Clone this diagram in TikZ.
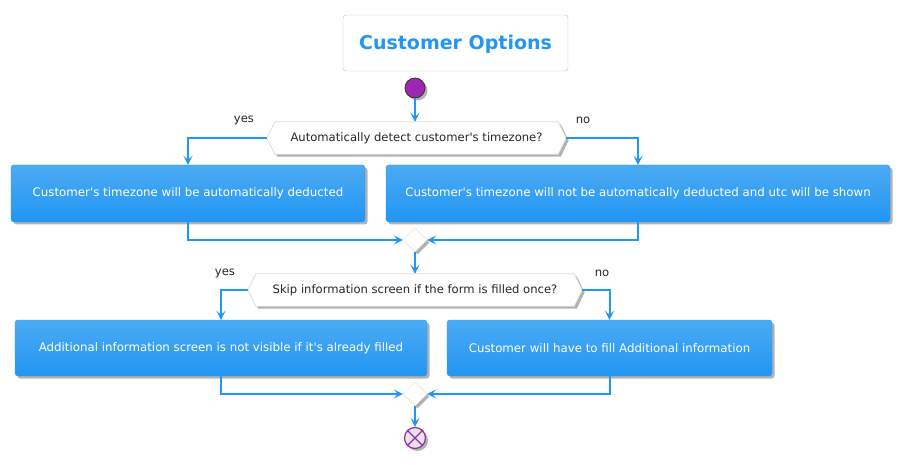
\documentclass[tikz,border=0pt]{standalone}
\usepackage{fontspec}
\setmainfont{DejaVu Sans}[Ligatures=TeXOff]
\usetikzlibrary{arrows.meta,shadows,shapes.geometric}
\definecolor{pblue}{HTML}{2196F3}
\definecolor{lblue}{HTML}{4CAAF3}
\definecolor{ppurple}{HTML}{9C27B0}
\definecolor{hexborder}{HTML}{DDDDDD}
\begin{document}
\begin{tikzpicture}[x=1pt,y=-1pt,
  shad/.style={drop shadow={shadow xshift=2.5pt,shadow yshift=-2.5pt,fill=black,opacity=0.3}},
  actbox/.style={rectangle,rounded corners=3pt,top color=lblue,bottom color=pblue,draw=pblue,
    text=white,font=\fontsize{11.8}{14}\selectfont,inner sep=0pt,shad},
  hextext/.style={rectangle,inner sep=0pt,font=\fontsize{11.6}{14}\selectfont,text=black!85},
  hexshape/.style={fill=white,draw=hexborder,line width=0.8pt,shad},
  merge/.style={diamond,fill=white,draw=hexborder,minimum width=24pt,minimum height=24pt,inner sep=0pt,shad},
  lbl/.style={font=\fontsize{11.6}{14}\selectfont,text=black!85},
  flow/.style={draw=pblue,line width=2pt,-{Stealth[length=9pt,width=9pt,inset=4pt]}},
  title/.style={rectangle,rounded corners=3pt,draw=black!25,fill=white,
    minimum width=225pt,minimum height=56pt,inner sep=0pt},
  titletext/.style={text=pblue,font=\fontsize{19}{23}\bfseries}
]
\useasboundingbox (0,0) rectangle (913,465);

\node[title] (title) at (455.5,43) {};
\node[titletext] (titlet) at (455.5,44.5) {Customer Options};

\node[circle,fill=ppurple,draw=black!80,line width=0.8pt,minimum size=20pt,inner sep=0pt,shad] (start) at (415,88) {};

% decision 1
\node[hextext,minimum width=283pt,minimum height=32pt] (d1) at (416.5,138) {};
\coordinate (d1L) at ([xshift=-8pt]d1.west);
\coordinate (d1R) at ([xshift=8pt]d1.east);
\path[hexshape] (d1L) -- (d1.north west) -- (d1.north east) -- (d1R) -- (d1.south east) -- (d1.south west) -- cycle;
\node[hextext] at (d1) {Automatically detect customer's timezone?};
\node[lbl] (y1) at (244,120) {yes};
\node[lbl] (n1) at (583,120) {no};

\node[actbox,minimum width=354pt,minimum height=57pt] (b1) at (188,193.5) {Customer's timezone will be automatically deducted};
\node[actbox,minimum width=504pt,minimum height=57pt] (b2) at (638,193.5) {Customer's timezone will not be automatically deducted and utc will be shown};

\node[merge] (m1) at (415,240) {};

% decision 2
\node[hextext,minimum width=318pt,minimum height=32pt] (d2) at (415,290) {};
\coordinate (d2L) at ([xshift=-8pt]d2.west);
\coordinate (d2R) at ([xshift=8pt]d2.east);
\path[hexshape] (d2L) -- (d2.north west) -- (d2.north east) -- (d2R) -- (d2.south east) -- (d2.south west) -- cycle;
\node[hextext] at (d2) {Skip information screen if the form is filled once?};
\node[lbl] (y2) at (225,273) {yes};
\node[lbl] (n2) at (602,273) {no};

\node[actbox,minimum width=412pt,minimum height=56pt] (b3) at (221,348) {Additional information screen is not visible if it's already filled};
\node[actbox,minimum width=325pt,minimum height=56pt] (b4) at (609.5,348) {Customer will have to fill Additional information};

\node[merge] (m2) at (415,394) {};

\node[circle,fill=black!10,draw=ppurple,line width=1.2pt,minimum size=21pt,inner sep=0pt,shad] (end) at (415,438) {};
\draw[ppurple,line width=1.4pt] (end.north west) -- (end.south east) (end.north east) -- (end.south west);

% connectors
\draw[flow] (start) -- (start |- d1.north);
\draw[flow] (d1L) -| (b1.north);
\draw[flow] (d1R) -| (b2.north);
\draw[flow] (b1.south) |- (m1.west);
\draw[flow] (b2.south) |- (m1.east);
\draw[flow] (m1.south) -- (d2.north);
\draw[flow] (d2L) -| (b3.north);
\draw[flow] (d2R) -| (b4.north);
\draw[flow] (b3.south) |- (m2.west);
\draw[flow] (b4.south) |- (m2.east);
\draw[flow] (m2.south) -- (end.north);
\end{tikzpicture}
\end{document}
